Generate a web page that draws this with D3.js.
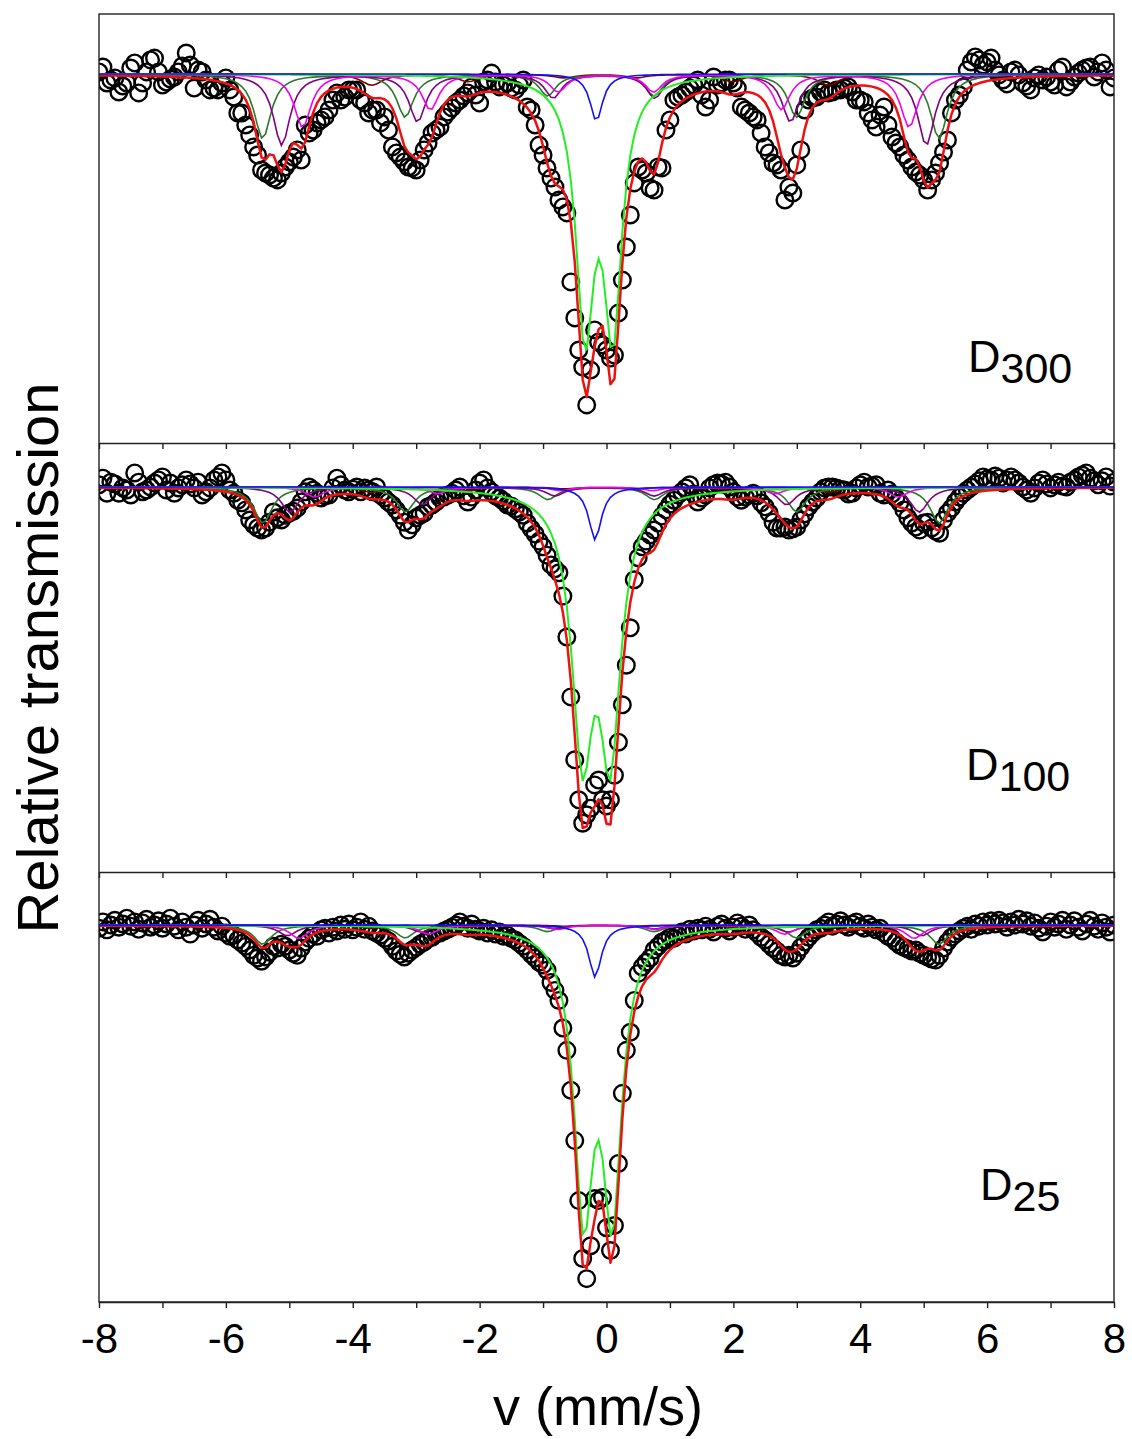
<!DOCTYPE html>
<html>
<head>
<meta charset="utf-8">
<script src="https://cdn.jsdelivr.net/npm/d3@7"></script>
<style>
  body { margin: 0; background: #fff; }
  svg text { font-family: "Liberation Sans", Arial, sans-serif; fill: #000; }
</style>
</head>
<body>
<svg id="chart" width="1132" height="1439"></svg>
<script>
// Mössbauer spectra of three samples: relative transmission (%) per velocity channel.
const vStart = -8, vStep = 0.0625;          // channel velocities, mm/s
const sampleNames = ["D300", "D100", "D25"];
const sampleSubscripts = ["300", "100", "25"];
const xTickValues = [-8, -7, -6, -5, -4, -3, -2, -1, 0, 1, 2, 3, 4, 5, 6, 7, 8];
const xTickLabels = ["-8", "", "-6", "", "-4", "", "-2", "", "0", "", "2", "", "4", "", "6", "", "8"];

const transD300 = [
  100.07,100.23,99.70,99.80,99.87,99.40,99.60,99.70,100.20,100.37,99.37,99.70,100.07,100.47,100.53,100.07,
  99.63,99.73,99.83,99.90,100.07,100.27,100.70,100.30,99.53,100.13,100.07,99.80,99.47,99.53,99.47,99.70,
  99.87,99.47,99.23,98.70,98.70,98.30,97.97,97.57,97.30,96.80,96.70,96.63,96.53,96.47,96.70,96.90,
  97.07,97.23,97.47,97.13,98.30,98.03,98.13,98.37,98.47,98.57,98.80,99.13,99.37,99.13,99.23,99.47,
  99.47,99.47,99.13,99.03,98.70,98.80,98.80,98.37,98.57,98.13,97.57,97.37,97.23,97.07,96.90,96.87,
  96.80,97.13,97.47,97.70,98.03,98.13,98.23,98.57,98.73,98.87,99.03,99.13,99.27,99.37,99.57,99.30,
  99.03,99.73,99.80,100.03,99.73,99.57,99.63,99.70,99.53,99.47,99.63,99.80,98.90,98.80,98.30,97.63,
  97.30,96.87,96.53,96.23,95.80,95.57,95.37,93.07,91.87,90.80,90.23,88.97,90.13,91.47,91.07,90.97,
  90.80,90.53,90.63,92.03,93.13,94.23,95.30,96.37,96.90,96.80,96.70,96.20,96.13,96.90,96.87,98.13,
  98.47,99.13,99.23,99.30,99.40,99.53,99.63,99.80,99.30,98.90,99.13,99.90,99.63,99.70,99.80,99.80,
  99.70,99.53,98.90,98.80,98.70,98.57,98.47,98.03,97.57,97.37,97.03,96.97,96.80,95.80,96.23,96.03,
  96.97,97.47,98.80,99.13,99.20,99.23,99.40,99.47,99.37,99.40,99.47,99.47,99.53,99.57,99.40,99.13,
  99.13,99.07,98.70,98.47,98.23,98.63,98.90,98.30,97.90,97.70,97.57,97.30,97.13,96.90,96.73,96.63,
  96.47,96.13,96.47,96.70,97.03,97.40,97.80,98.70,99.13,99.30,99.57,100.13,100.40,100.57,100.47,100.30,
  100.40,100.53,100.13,99.97,99.80,99.67,100.07,100.13,99.97,99.70,99.60,99.47,99.87,99.97,99.80,99.90,
  99.73,99.63,100.13,100.23,99.57,99.73,99.90,100.03,100.13,100.20,100.23,99.90,100.07,100.37,100.13,99.57,
  99.87
];

const transD100 = [
  100.05,100.20,99.86,100.11,100.07,99.86,99.98,99.93,99.82,100.32,100.11,99.89,99.93,100.00,100.09,100.16,
  100.23,99.93,100.09,99.86,99.98,100.05,100.16,100.07,99.98,100.11,99.82,99.89,99.98,100.16,100.23,100.32,
  100.16,99.93,99.86,99.70,99.64,99.48,99.25,99.14,99.07,99.02,99.07,99.20,99.43,99.30,99.25,99.36,
  99.41,99.45,99.52,99.66,99.89,100.00,99.93,99.86,99.75,99.80,99.82,99.98,100.20,100.05,99.93,99.89,
  99.95,100.00,99.89,99.98,99.93,99.89,100.00,99.82,99.75,99.66,99.59,99.48,99.36,99.20,99.02,99.14,
  99.30,99.36,99.41,99.55,99.59,99.66,99.75,99.77,99.82,99.86,99.93,100.00,99.80,99.66,99.77,99.93,
  100.09,100.16,99.98,99.89,99.80,99.75,99.68,99.59,99.57,99.50,99.43,99.36,99.18,99.05,98.93,98.77,
  98.64,98.45,98.23,98.14,98.05,97.52,96.59,95.23,93.80,92.89,92.36,92.55,92.70,93.23,93.34,92.89,
  92.75,92.89,93.45,94.20,95.05,95.95,96.80,97.89,98.39,98.64,98.77,98.91,99.02,99.18,99.34,99.48,
  99.61,99.70,99.82,99.89,99.98,100.05,99.84,99.66,99.75,99.82,99.98,100.05,100.09,100.07,100.11,100.00,
  99.89,99.77,99.70,99.77,99.82,99.86,99.80,99.64,99.55,99.41,99.20,99.07,99.07,99.09,99.02,99.05,
  99.09,99.25,99.39,99.55,99.66,99.75,99.89,99.98,100.00,100.00,99.98,99.95,99.93,99.84,99.86,99.98,
  100.05,100.11,100.00,100.02,100.05,99.86,99.82,99.93,99.84,99.75,99.64,99.48,99.30,99.18,99.09,99.02,
  99.18,99.20,99.07,99.00,98.95,99.25,99.41,99.52,99.66,99.77,99.86,99.93,100.00,100.07,100.14,100.23,
  100.18,100.16,100.25,100.20,100.09,100.16,100.23,100.16,100.09,100.00,99.93,99.86,99.98,100.09,100.16,100.07,
  99.98,100.05,100.11,100.02,100.00,100.11,100.16,100.23,100.27,100.32,100.20,100.14,100.05,100.14,100.23,100.02,
  100.11
];

const transD25 = [
  99.94,100.06,99.91,100.00,100.09,99.96,100.02,100.13,99.98,100.06,99.92,100.04,100.11,99.96,100.00,100.08,
  99.94,100.02,100.13,99.98,99.91,100.06,99.96,99.83,100.00,100.09,99.94,100.02,100.11,99.96,99.89,99.98,
  99.85,99.79,99.81,99.72,99.66,99.60,99.53,99.43,99.38,99.32,99.40,99.49,99.60,99.57,99.64,99.60,
  99.53,99.47,99.43,99.57,99.68,99.75,99.83,99.79,99.91,99.94,99.85,99.96,99.89,100.00,99.92,100.02,
  99.91,99.96,100.06,99.92,99.98,99.89,99.85,99.81,99.75,99.70,99.60,99.51,99.45,99.40,99.47,99.53,
  99.58,99.64,99.68,99.74,99.77,99.83,99.85,99.89,99.92,99.96,100.00,100.06,99.98,99.94,100.02,99.92,
  99.89,99.94,99.85,99.91,99.83,99.87,99.79,99.81,99.75,99.72,99.66,99.60,99.53,99.45,99.38,99.30,
  99.25,99.15,98.92,98.77,98.58,98.06,97.64,96.89,95.94,94.81,93.72,93.34,93.96,94.85,94.81,94.87,
  94.30,93.87,94.34,95.51,96.83,97.64,97.98,98.58,99.09,99.21,99.30,99.38,99.53,99.60,99.68,99.72,
  99.77,99.75,99.81,99.87,99.83,99.92,99.89,99.94,99.91,99.98,99.92,99.87,99.98,100.02,99.94,99.89,
  99.96,100.04,99.98,99.92,100.00,99.91,99.85,99.77,99.72,99.64,99.57,99.51,99.43,99.40,99.43,99.38,
  99.47,99.58,99.68,99.77,99.85,99.91,99.94,100.00,100.06,99.98,100.02,100.08,100.00,99.96,100.02,100.06,
  99.98,99.94,100.02,99.96,99.91,99.94,99.85,99.79,99.75,99.68,99.62,99.58,99.55,99.51,99.53,99.47,
  99.43,99.40,99.36,99.34,99.43,99.57,99.68,99.77,99.83,99.89,99.94,99.98,99.92,100.02,99.98,100.06,
  100.00,100.08,100.02,100.09,100.04,99.96,100.06,100.00,100.11,100.02,100.08,99.98,100.04,99.94,99.87,99.98,
  100.06,99.96,100.02,100.09,99.92,100.00,100.08,99.96,99.89,100.02,100.09,99.98,99.92,100.04,99.96,99.87,
  100.00
];

// Fitted subspectra. Sextets: centre shift, half outer splitting, line depths (%) for
// lines 1/6, 2/5, 3/4 and half width (mm/s). Order: A, B, C, D.
const sextetsD300 = [
  { center: -0.09, split: 5.33, depth: [2.15, 1.43, 0.72], hw: 0.16 },
  { center: -0.04, split: 5.08, depth: [2.37, 1.58, 0.79], hw: 0.16 },
  { center: -0.01, split: 4.78, depth: [1.77, 1.18, 0.59], hw: 0.16 },
  { center: -0.10, split: 3.60, depth: [0.37, 0.25, 0.12], hw: 0.20 }
];
const sextetsD100 = [
  { center: -0.085, split: 5.33, depth: [0.82, 0.56, 0.28], hw: 0.17 },
  { center: -0.03, split: 4.96, depth: [0.57, 0.40, 0.20], hw: 0.17 },
  { center: 0.00, split: 4.60, depth: [0.23, 0.15, 0.08], hw: 0.17 },
  { center: -0.10, split: 3.60, depth: [0.12, 0.08, 0.04], hw: 0.20 }
];
const sextetsD25 = [
  { center: -0.09, split: 5.33, depth: [0.36, 0.24, 0.12], hw: 0.17 },
  { center: -0.03, split: 5.00, depth: [0.20, 0.13, 0.07], hw: 0.17 },
  { center: 0.00, split: 4.85, depth: [0.25, 0.17, 0.08], hw: 0.17 },
  { center: -0.10, split: 3.60, depth: [0.06, 0.04, 0.02], hw: 0.20 }
];
// Paramagnetic doublet: two line positions, depth per line (%), half width.
const doubletD300 = { lines: [-0.34, 0.10], depth: 8.23, hw: 0.17 };
const doubletD100 = { lines: [-0.38, 0.06], depth: 5.69, hw: 0.20 };
const doubletD25  = { lines: [-0.36, 0.09], depth: 5.18, hw: 0.18 };
// Singlet.
const singletD300 = { lines: [-0.16], depth: 1.57, hw: 0.12 };
const singletD100 = { lines: [-0.18], depth: 1.20, hw: 0.12 };
const singletD25  = { lines: [-0.18], depth: 0.98, hw: 0.12 };
// Broad relaxation term, part of the total fit only.
const broadD300 = { lines: [-0.12], depth: 0.67, hw: 1.0 };
const broadD100 = { lines: [-0.12], depth: 0.80, hw: 0.5 };
const broadD25  = { lines: [-0.12], depth: 0.30, hw: 0.6 };

// ---------- drawing ----------
const sextetRatios = [1, 0.5787, 0.1575];
const sextetColors = ["#2b7a2b", "#800080", "#f000f0", "#800000"];
const doubletColor = "#22ee22", singletColor = "#1010ff", totalColor = "#ee1111";

const panels = [
  { trans: transD300, sextets: sextetsD300, doublet: doubletD300, singlet: singletD300, broad: broadD300, yDomain: [87.7, 102.0] },
  { trans: transD100, sextets: sextetsD100, doublet: doubletD100, singlet: singletD100, broad: broadD100, yDomain: [91.25, 101.0] },
  { trans: transD25,  sextets: sextetsD25,  doublet: doubletD25,  singlet: singletD25,  broad: broadD25,  yDomain: [92.9, 101.0] }
];

const plotLeft = 99, plotRight = 1114;
const panelEdges = [14, 443, 872, 1302];
const labelAnchors = [[968, 372], [966, 780], [980, 1200]];

const svg = d3.select("#chart");
const x = d3.scaleLinear().domain([-8, 8]).range([plotLeft, plotRight]);

function lorentz(v, c, depth, hw) {
  const t = (v - c) / hw;
  return depth / (1 + t * t);
}
function sextetLines(s) {
  const out = [];
  sextetRatios.forEach((r, k) => {
    out.push({ c: s.center - s.split * r, d: s.depth[k] });
    out.push({ c: s.center + s.split * r, d: s.depth[k] });
  });
  return out;
}
function sextetAbs(s, v) {
  return d3.sum(sextetLines(s), l => lorentz(v, l.c, l.d, s.hw));
}
function multAbs(m, v) {
  return d3.sum(m.lines, c => lorentz(v, c, m.depth, m.hw));
}

const defs = svg.append("defs");

panels.forEach((p, i) => {
  const top = panelEdges[i], bottom = panelEdges[i + 1];
  const y = d3.scaleLinear().domain(p.yDomain).range([bottom, top]);
  const vel = p.trans.map((_, j) => vStart + j * vStep);

  defs.append("clipPath").attr("id", "clip" + i)
    .append("rect").attr("x", plotLeft).attr("y", top)
    .attr("width", plotRight - plotLeft).attr("height", bottom - top);

  const g = svg.append("g").attr("clip-path", `url(#clip${i})`);

  // measured points
  g.append("g").selectAll("circle").data(p.trans).join("circle")
    .attr("cx", (d, j) => x(vel[j]))
    .attr("cy", d => y(d))
    .attr("r", 8.3)
    .attr("fill", "none")
    .attr("stroke", "#000")
    .attr("stroke-width", 2.4);

  const line = d3.line().x(d => x(d[0])).y(d => y(d[1]));

  // sextet subspectra (D drawn first so A-C sit on top)
  [3, 0, 1, 2].forEach(k => {
    const s = p.sextets[k];
    g.append("path")
      .attr("d", line(vel.map(v => [v, 100 - sextetAbs(s, v)])))
      .attr("fill", "none").attr("stroke", sextetColors[k]).attr("stroke-width", 1.6);
  });

  // doublet
  g.append("path")
    .attr("d", line(vel.map(v => [v, 100 - multAbs(p.doublet, v)])))
    .attr("fill", "none").attr("stroke", doubletColor).attr("stroke-width", 2);

  // total fit
  const total = vel.map(v => [v, 100 - (
    d3.sum(p.sextets, s => sextetAbs(s, v)) +
    multAbs(p.doublet, v) + multAbs(p.singlet, v) + multAbs(p.broad, v))]);
  g.append("path").attr("d", line(total))
    .attr("fill", "none").attr("stroke", totalColor).attr("stroke-width", 2.5)
    .attr("stroke-linejoin", "round");

  // singlet
  g.append("path")
    .attr("d", line(vel.map(v => [v, 100 - multAbs(p.singlet, v)])))
    .attr("fill", "none").attr("stroke", singletColor).attr("stroke-width", 1.6);

  // sample label with subscript
  const [lx, ly] = labelAnchors[i];
  const t = svg.append("text").attr("x", lx).attr("y", ly).attr("font-size", 45).text("D");
  t.append("tspan").attr("dy", 11).attr("font-size", 43).text(sampleSubscripts[i]);

  // inner separator ticks on the top edge of lower panels
  if (i > 0) {
    const sep = svg.append("g").attr("transform", `translate(0,${top})`)
      .call(d3.axisBottom(x).tickValues(xTickValues).tickSize(6).tickSizeOuter(0).tickFormat(""));
    sep.select(".domain").attr("stroke", "#222").attr("stroke-width", 1.4);
    sep.selectAll(".tick line").attr("stroke", "#222").attr("stroke-width", 1.4);
  }
});

// outer frame
svg.append("rect")
  .attr("x", plotLeft).attr("y", panelEdges[0])
  .attr("width", plotRight - plotLeft).attr("height", panelEdges[3] - panelEdges[0])
  .attr("fill", "none").attr("stroke", "#222").attr("stroke-width", 1.4);

// bottom velocity axis
const xAxis = svg.append("g").attr("transform", `translate(0,${panelEdges[3]})`)
  .call(d3.axisBottom(x).tickValues(xTickValues).tickSize(6).tickSizeOuter(0).tickPadding(15)
    .tickFormat((d, k) => xTickLabels[k]));
xAxis.select(".domain").attr("stroke", "#222").attr("stroke-width", 1.4);
xAxis.selectAll(".tick line").attr("stroke", "#222").attr("stroke-width", 1.4);
xAxis.selectAll(".tick text").attr("font-size", 42).attr("fill", "#000")
  .attr("font-family", "'Liberation Sans', Arial, sans-serif");

// axis titles
svg.append("text").attr("x", 598).attr("y", 1425).attr("text-anchor", "middle")
  .attr("font-size", 54).text("v (mm/s)");
svg.append("text").attr("transform", "translate(58,658) rotate(-90)")
  .attr("text-anchor", "middle").attr("font-size", 58).text("Relative transmission");
</script>
</body>
</html>
